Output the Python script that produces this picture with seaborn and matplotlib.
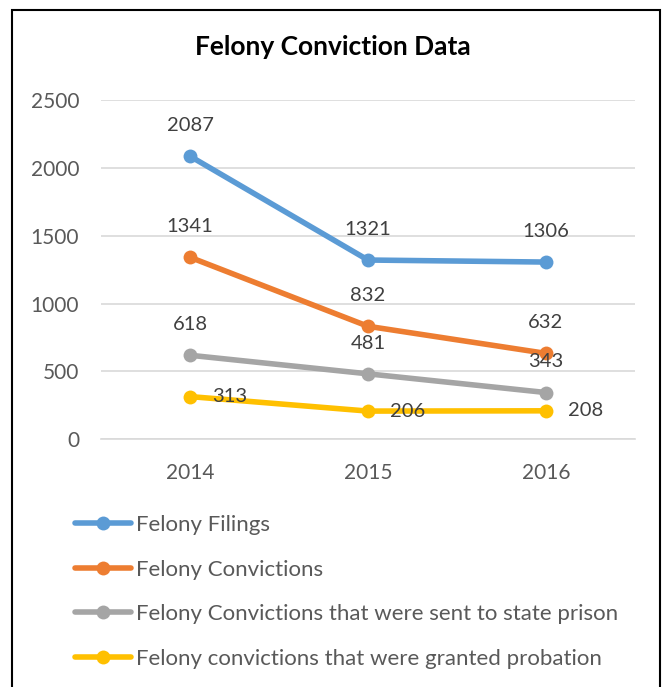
import matplotlib
matplotlib.use("Agg")
import matplotlib.pyplot as plt
import seaborn as sns
import pandas as pd
from matplotlib.patches import Rectangle

years = ["2014", "2015", "2016"]
filings = [2087, 1321, 1306]
convictions = [1341, 832, 632]
prison = [618, 481, 343]
probation = [313, 206, 208]
series_names = ["Felony Filings", "Felony Convictions",
                "Felony Convictions that were sent to state prison",
                "Felony convictions that were granted probation"]
colors = ["#5B9BD5", "#ED7D31", "#A5A5A5", "#FFC000"]

sns.set_theme(style="white")
plt.rcParams['font.family'] = ['Lato', 'DejaVu Sans']

rows = []
for name, vals in zip(series_names, [filings, convictions, prison, probation]):
    for i, (y, v) in enumerate(zip(years, vals)):
        rows.append({"x": i, "year": y, "value": v, "series": name})
df = pd.DataFrame(rows)

fig = plt.figure(figsize=(6.66, 6.87), dpi=100)
ax = fig.add_axes([0.152, 0.361, 0.801, 0.493])
sns.lineplot(data=df, x="x", y="value", hue="series", hue_order=series_names,
             palette=colors, marker="o", markersize=10, markeredgewidth=0,
             linewidth=4, ax=ax, legend=True, solid_capstyle="round")

ax.set_xlim(-0.5, 2.5)
ax.set_ylim(0, 2500)
ax.set_yticks([0, 500, 1000, 1500, 2000, 2500])
ax.set_xticks(range(len(years)))
ax.set_xticklabels(years)
ax.set_xlabel("")
ax.set_ylabel("")
ax.grid(axis="y", color="#D9D9D9", linewidth=1.2)
ax.set_axisbelow(True)
for s in ["top", "right", "left"]:
    ax.spines[s].set_visible(False)
ax.spines["bottom"].set_color("#D9D9D9")
ax.spines["bottom"].set_linewidth(1.2)
ax.tick_params(axis="both", colors="#595959", labelsize=15, length=0)
ax.tick_params(axis="x", pad=17)
ax.tick_params(axis="y", pad=16)

lab_kw = dict(fontsize=14.5, color="#404040")
for vals in [filings, convictions, prison]:
    for i, v in enumerate(vals):
        ax.annotate(str(v), (i, v), xytext=(0, 16), textcoords="offset points",
                    ha="center", va="bottom", **lab_kw)
for i, v in enumerate(probation):
    ax.annotate(str(v), (i, v), xytext=(16, 0), textcoords="offset points",
                ha="left", va="center", **lab_kw)

fig.text(0.5, 0.931, "Felony Conviction Data", ha="center", va="center",
         fontsize=19, fontweight="bold", color="black")

handles, labels = ax.get_legend_handles_labels()
ax.legend(handles, labels, loc="upper left", bbox_to_anchor=(0.1, 0.263),
          bbox_transform=fig.transFigure, frameon=False, fontsize=16,
          labelcolor="#595959", handlelength=2.5, handletextpad=0.22,
          labelspacing=1.1, borderaxespad=0)

fig.patches.append(Rectangle((12/666, -0.05), 648/666, 1 - 10/687 + 0.05,
                             transform=fig.transFigure, fill=False,
                             edgecolor="black", linewidth=1.5))

fig.savefig("out.png", dpi=100)
